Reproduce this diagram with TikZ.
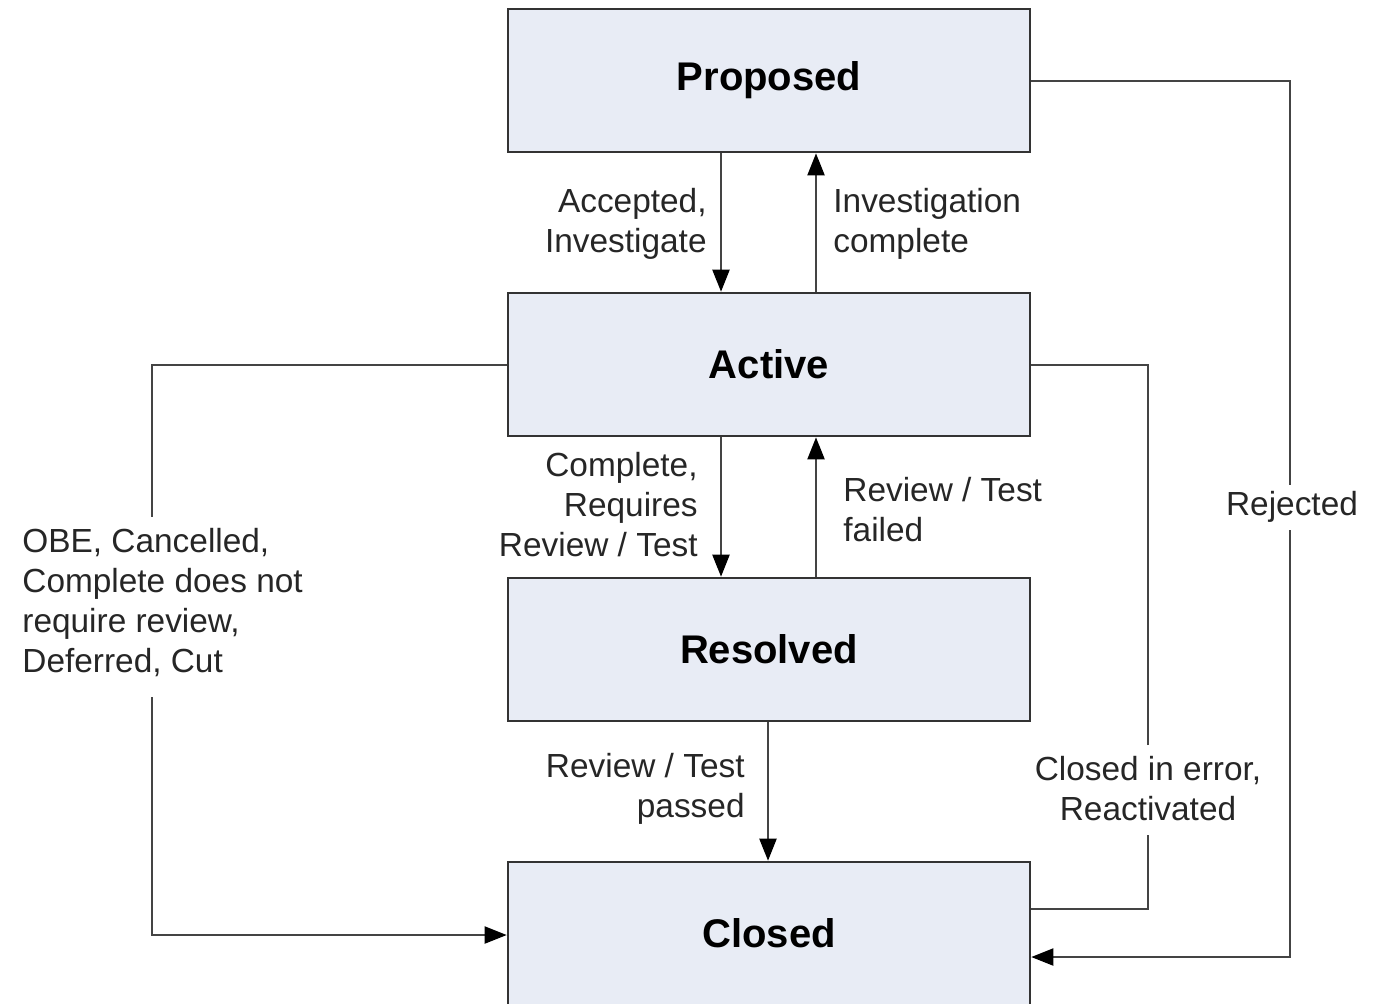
\documentclass[tikz,border=0pt]{standalone}
\usepackage{fontspec}
\setmainfont{Liberation Sans}
\usetikzlibrary{arrows.meta}
\definecolor{boxfill}{HTML}{E8ECF5}
\definecolor{boxline}{HTML}{333333}
\definecolor{connc}{HTML}{444444}
\begin{document}
\begin{tikzpicture}[x=0.5pt,y=-0.5pt,
  box/.style={draw=boxline, line width=1.3pt, fill=boxfill, minimum width=261pt, minimum height=71.5pt, inner sep=0pt, font=\fontsize{20}{24}\selectfont\bfseries},
  lbl/.style={inner sep=0pt, font=\fontsize{16.7}{20}\selectfont, text=black!85},
  conn/.style={draw=connc, line width=1pt},
  arr/.style={conn, -{Triangle[width=8.5pt,length=11pt,color=black,fill=black]}}]
\useasboundingbox (0,0) rectangle (1373,1003);
% states
\node[box] (P) at (769,80.5) {Proposed};
\node[box] (A) at (769,364.5) {Active};
\node[box] (R) at (769,649.5) {Resolved};
\node[box] (C) at (769,933.5) {Closed};
% helper coordinates
\coordinate (xl) at (721,0);
\coordinate (xr) at (816,0);
\coordinate (xm) at (768,0);
% vertical transitions
\draw[arr] (P.south -| xl) -- (A.north -| xl);
\draw[arr] (A.north -| xr) -- (P.south -| xr);
\draw[arr] (A.south -| xl) -- (R.north -| xl);
\draw[arr] (R.north -| xr) -- (A.south -| xr);
\draw[arr] (R.south -| xm) -- (C.north -| xm);
% Rejected
\coordinate (rjt) at (1290,485);
\coordinate (rjb) at (1290,530);
\coordinate (rjy) at (0,957);
\draw[conn] (P.east) -- (P.east -| rjt) -- (rjt);
\draw[arr] (rjb) -- (rjb |- rjy) -- (C.east |- rjy);
% Closed in error
\coordinate (cey) at (0,909);
\coordinate (cet) at (1148,745);
\coordinate (ceb) at (1148,835);
\draw[conn] (C.east |- cey) -- (ceb |- cey) -- (ceb);
\draw[conn] (cet) -- (A.east -| cet) -- (A.east);
% OBE
\coordinate (obt) at (152,517);
\coordinate (obb) at (152,697);
\coordinate (oby) at (0,935);
\draw[conn] (A.west) -- (A.west -| obt) -- (obt);
\draw[arr] (obb) -- (obb |- oby) -- (C.west |- oby);
% labels
\node[lbl, anchor=east, align=right] (l1) at (707,223.5) {Accepted,\\Investigate};
\node[lbl, anchor=west, align=left] (l2) at (833,223.5) {Investigation\\complete};
\node[lbl, anchor=east, align=right] (l3) at (698,505) {Complete,\\Requires\\Review / Test};
\node[lbl, anchor=west, align=left] (l4) at (843,510) {Review / Test\\failed};
\node[lbl, anchor=east, align=right] (l5) at (745,788.5) {Review / Test\\passed};
\node[lbl, align=center] (l6) at (1148,789) {Closed in error,\\Reactivated};
\node[lbl] (l7) at (1292,507) {Rejected};
\node[lbl, anchor=west, align=left] (l8) at (22,603) {OBE, Cancelled,\\Complete does not\\require review,\\Deferred, Cut};
\end{tikzpicture}
\end{document}
